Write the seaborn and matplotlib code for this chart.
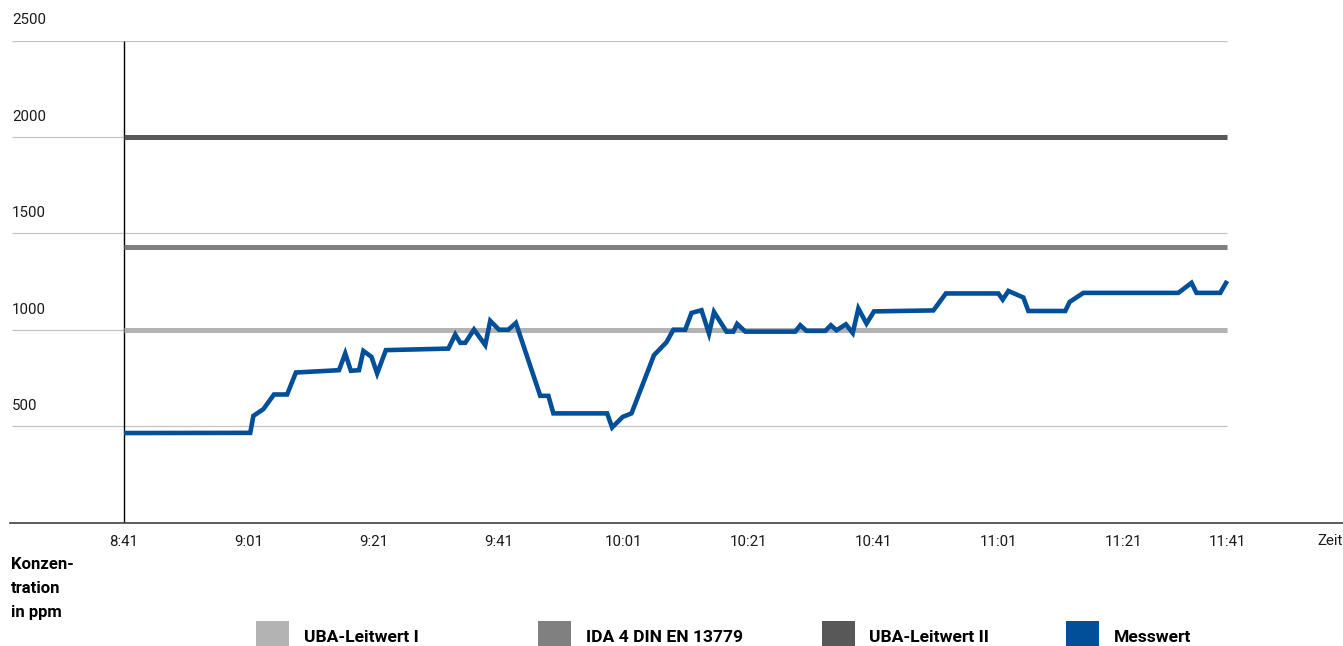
import matplotlib
matplotlib.use("Agg")
import matplotlib.pyplot as plt
from matplotlib import font_manager
from matplotlib.patches import Rectangle
import pandas as pd
import seaborn as sns

# --- data -----------------------------------------------------------------
# measurement time in minutes after 8:41 and CO2 concentration in ppm
minuten = [0, 20.2, 20.7, 22.3, 24.0, 26.1, 27.5, 34.4, 35.4, 36.3, 37.6, 38.3,
           39.6, 40.5, 41.9, 51.9, 53.0, 53.8, 54.6, 56.0, 57.8, 58.6, 60.0,
           61.5, 62.7, 66.6, 67.9, 68.7, 77.3, 78.1, 79.8, 81.2, 84.8, 86.8,
           87.9, 89.8, 90.8, 92.4, 93.6, 94.4, 96.4, 97.5, 98.1, 99.4, 107.4,
           108.2, 109.2, 112.2, 113.1, 114.0, 115.5, 116.6, 117.5, 118.8, 120.0,
           129.5, 131.5, 139.9, 140.6, 141.5, 143.9, 144.7, 150.6, 151.3, 153.5,
           168.7, 170.8, 171.6, 175.4, 176.5]
messwert_ppm = [464, 465, 553, 588, 664, 664, 778, 790, 877, 787, 790, 890,
                859, 773, 894, 902, 975, 932, 932, 1001, 920, 1046, 1000,
                1000, 1035, 657, 657, 566, 566, 493, 548, 566, 868, 935,
                1000, 1000, 1087, 1101, 980, 1092, 990, 990, 1030, 990, 990,
                1023, 994, 994, 1023, 997, 1028, 983, 1110, 1032, 1095,
                1100, 1188, 1188, 1156, 1201, 1167, 1097, 1097, 1144, 1191,
                1191, 1243, 1191, 1191, 1253]

grenz_namen = ["UBA-Leitwert I", "IDA 4 DIN EN 13779", "UBA-Leitwert II"]
grenz_werte = [1000, 1430, 2000]
messwert_name = "Messwert"

tick_minuten = [0, 20, 40, 60, 80, 100, 120, 140, 160, 176.5]
tick_labels = ["8:41", "9:01", "9:21", "9:41", "10:01", "10:21", "10:41",
               "11:01", "11:21", "11:41"]
y_werte = [500, 1000, 1500, 2000, 2500]
y_labels = ["500", "1000", "1500", "2000", "2500"]

farben = {
    "UBA-Leitwert I": "#b3b3b3",
    "IDA 4 DIN EN 13779": "#808080",
    "UBA-Leitwert II": "#585858",
    "Messwert": "#004f98",
}

# --- style ----------------------------------------------------------------
sns.set_theme(style="white")
names = {f.name for f in font_manager.fontManager.ttflist}
regular_font = "Roboto" if "Roboto" in names else "DejaVu Sans"
if "Liberation Sans Narrow" in names:
    bold_font, bold_size, label_size, label_ls = "Liberation Sans Narrow", 14.4, 13.6, 1.4
else:
    bold_font, bold_size, label_size, label_ls = regular_font, 12.6, 12.0, 1.74
plt.rcParams["font.family"] = [regular_font, "DejaVu Sans"]

W, H = 1343, 646
fig = plt.figure(figsize=(W / 100, H / 100), dpi=100)
fig.patch.set_facecolor("white")


def fx(px):
    return px / W


def fy(py):
    return 1 - py / H


# plot area: x = minutes (6.25 px per minute, 0 at px 124), y = ppm
px_per_min = 6.25
x0_px = 124
ax = fig.add_axes([fx(10), fy(522.5), fx(W - 10), (522.5 - 40.5) / H])
ax.set_xlim((10 - x0_px) / px_per_min, (W - x0_px) / px_per_min)
ax.set_ylim(0, 2500)
ax.set_facecolor("white")
for side in ("top", "right", "left"):
    ax.spines[side].set_visible(False)
ax.spines["bottom"].set_color("#404040")
ax.spines["bottom"].set_linewidth(1.2)

x_end = tick_minuten[-1]
x_grid_start = (12 - x0_px) / px_per_min

# horizontal grid lines
ax.hlines(y_werte, x_grid_start, x_end, colors="#c4c4c4", linewidth=0.9, zorder=1)
# vertical axis line at the start of the measurement
ax.vlines(0, 0, 2500, colors="black", linewidth=1.0, zorder=2)

# reference limits
grenz_df = pd.DataFrame({
    "zeit": [0, x_end] * len(grenz_namen),
    "ppm": [v for v in grenz_werte for _ in range(2)],
    "reihe": [n for n in grenz_namen for _ in range(2)],
})
sns.lineplot(data=grenz_df, x="zeit", y="ppm", hue="reihe", palette=farben,
             hue_order=grenz_namen, linewidth=3.6, legend=False, ax=ax,
             estimator=None, sort=False, zorder=3, solid_capstyle="butt")

# measured concentration
mess_df = pd.DataFrame({"zeit": minuten, "ppm": messwert_ppm})
sns.lineplot(data=mess_df, x="zeit", y="ppm", color=farben[messwert_name],
             linewidth=3.3, ax=ax, estimator=None, sort=False, zorder=4,
             solid_joinstyle="miter", solid_capstyle="butt")

ax.set_xlabel("")
ax.set_ylabel("")
ax.set_yticks([])
ax.set_xticks(tick_minuten)
ax.set_xticklabels(tick_labels, fontsize=10.8, color="#1a1a1a")
ax.tick_params(axis="x", length=0, pad=9)

# y labels sit above their grid lines at the left edge
for v, lab in zip(y_werte, y_labels):
    ax.annotate(lab, xy=(x_grid_start, v), xytext=(0, 20), textcoords="offset pixels",
                ha="left", va="center", fontsize=10.8, color="#1a1a1a",
                annotation_clip=False)

# axis titles
fig.text(fx(1317), fy(541), "Zeit", ha="left", va="center", fontsize=10.8,
         color="#1a1a1a")
fig.text(fx(11), fy(557), "Konzen-\ntration\nin ppm", ha="left", va="top",
         fontsize=label_size, fontweight="bold", family=bold_font,
         linespacing=label_ls, color="black")

# legend
leg_names = grenz_namen + [messwert_name]
box_x = [256, 538, 822, 1066]
text_x = [304, 586, 869, 1114]
for name, bx, tx in zip(leg_names, box_x, text_x):
    fig.patches.append(Rectangle((fx(bx), fy(654)), 33 / W, 33 / H,
                                 transform=fig.transFigure, facecolor=farben[name],
                                 edgecolor="none"))
    fig.text(fx(tx), fy(637), name, ha="left", va="center", fontsize=bold_size,
             fontweight="bold", family=bold_font, color="black")

fig.savefig("out.png", dpi=100, facecolor="white")
